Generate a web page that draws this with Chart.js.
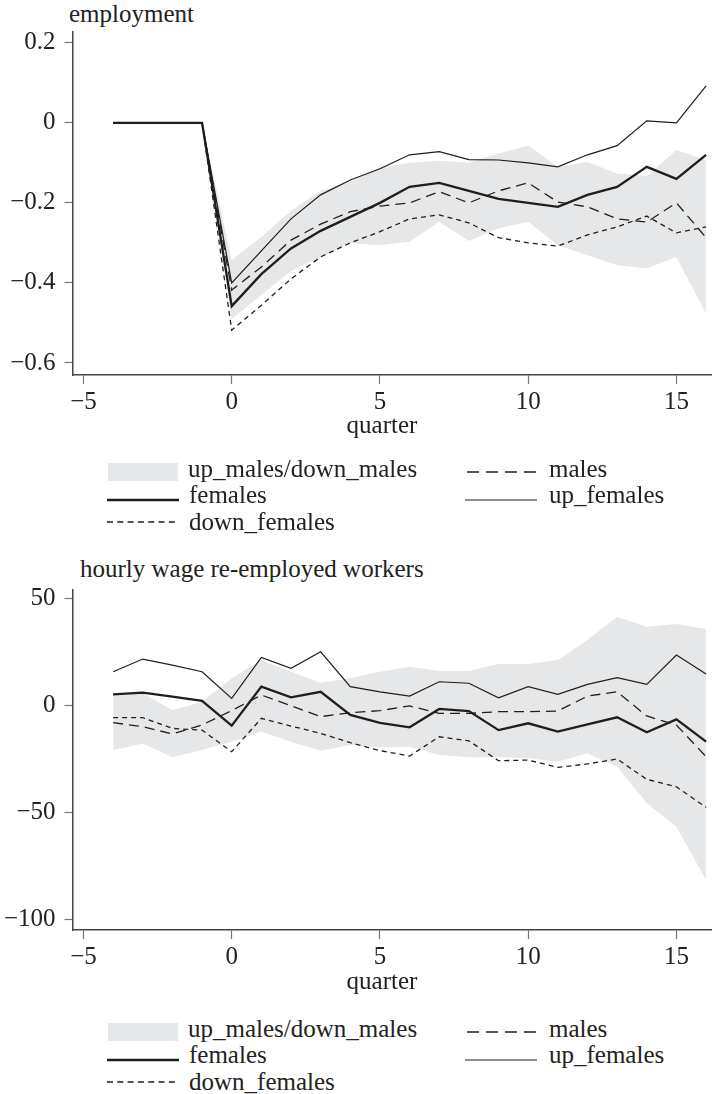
<!DOCTYPE html>
<html>
<head>
<meta charset="utf-8">
<script src="https://cdn.jsdelivr.net/npm/chart.js@4.4.1/dist/chart.umd.min.js"></script>
<style>
  body { margin: 0; background: #fff; }
  #page { position: relative; width: 712px; height: 1094px; overflow: hidden;
          font-family: "Liberation Serif", "Times New Roman", serif; color: #222; }
  .txt { position: absolute; font-size: 25px; line-height: 25px; white-space: nowrap; }
  canvas { position: absolute; left: 0; }
  svg { position: absolute; left: 0; overflow: visible; }
</style>
</head>
<body>
<div id="page">
  <div class="txt" style="left:69px; top:1px;">employment</div>
  <canvas id="empChart" width="712" height="445" style="top:0px;"></canvas>
  <div class="txt" style="left:282px; top:412px; width:200px; text-align:center;">quarter</div>

  <div class="txt" style="left:80px; top:556px;">hourly wage re-employed workers</div>
  <canvas id="wageChart" width="712" height="445" style="top:555px;"></canvas>
  <div class="txt" style="left:282px; top:968px; width:200px; text-align:center;">quarter</div>
</div>

<script>
const quarters = [-4, -3, -2, -1, 0, 1, 2, 3, 4, 5, 6, 7, 8, 9, 10, 11, 12, 13, 14, 15, 16];
const xTicks = [-5, 0, 5, 10, 15];

// employment
const empTicks = [0.2, 0, -0.2, -0.4, -0.6];
const empUpMales = [0, 0, 0, 0, -0.343, -0.285, -0.22, -0.17, -0.148, -0.112, -0.1, -0.095, -0.1, -0.077, -0.057, -0.11, -0.098, -0.127, -0.133, -0.068, -0.093];
const empDownMales = [0, 0, 0, 0, -0.49, -0.43, -0.37, -0.335, -0.3, -0.306, -0.297, -0.247, -0.295, -0.264, -0.247, -0.306, -0.331, -0.356, -0.364, -0.335, -0.477];
const empMales = [0, 0, 0, 0, -0.418, -0.36, -0.293, -0.253, -0.222, -0.208, -0.2, -0.172, -0.2, -0.17, -0.15, -0.198, -0.21, -0.24, -0.248, -0.2, -0.287];
const empFemales = [0, 0, 0, 0, -0.458, -0.378, -0.314, -0.27, -0.235, -0.2, -0.16, -0.15, -0.17, -0.19, -0.2, -0.21, -0.18, -0.16, -0.11, -0.14, -0.08];
const empUpFemales = [0, 0, 0, 0, -0.4, -0.32, -0.24, -0.18, -0.143, -0.115, -0.08, -0.072, -0.092, -0.093, -0.1, -0.11, -0.08, -0.057, 0.005, 0.0, 0.092];
const empDownFemales = [0, 0, 0, 0, -0.518, -0.456, -0.39, -0.335, -0.3, -0.272, -0.24, -0.23, -0.25, -0.287, -0.3, -0.308, -0.28, -0.26, -0.233, -0.275, -0.26];

// hourly wage
const wageTicks = [50, 0, -50, -100];
const wageUpMales = [5, 5.8, -2, 1.9, 12.8, 21.4, 15.9, 10.7, 12.8, 15.9, 18.2, 16.2, 16.2, 19.5, 19.5, 21.4, 30.7, 41.6, 36.9, 38.2, 35.8];
const wageDownMales = [-20.7, -17.6, -24.1, -20.7, -16.8, -12.1, -16.8, -21, -18.4, -19.4, -19.2, -23, -24.1, -24.1, -24.6, -26.2, -22.2, -28.5, -45.6, -56.5, -81.4];
const wageMales = [-7.9, -9.8, -13.2, -9, -2.3, 5, 0, -5.1, -3.3, -2.3, -0.1, -3.6, -3.6, -2.8, -2.8, -2.5, 4.5, 6.5, -4.8, -9, -23.8];
const wageFemales = [5.3, 6.1, 4.2, 2.3, -9.3, 8.9, 3.9, 6.5, -4.3, -8, -10.1, -1.5, -2.5, -11.4, -8.2, -12.1, -8.7, -5.4, -12.4, -6.4, -16.8];
const wageUpFemales = [15.9, 21.8, 19, 15.9, 3.4, 22.6, 17.5, 25.2, 8.9, 6.5, 4.5, 11.2, 10.5, 3.7, 8.9, 5.3, 10, 13.1, 10, 23.7, 14.8];
const wageDownFemales = [-5.6, -5.6, -10.6, -11.4, -21.5, -5.9, -9.5, -12.9, -17.3, -21, -23.5, -14.5, -16.4, -25.7, -25.4, -28.8, -27.2, -24.9, -34.4, -37.9, -47.5];

const bandColor = "#e6e7e8";
const lineColor = "#1e1e1e";
const tickFont = { family: "Liberation Serif", size: 25 };

function pts(values) {
  return quarters.map((q, i) => ({ x: q, y: values[i] }));
}

function fmt(v) {
  return String(v).replace("-", "\u2212");
}

function buildDatasets(up, down, males, females, upFemales, downFemales) {
  const common = { pointRadius: 0, tension: 0, borderColor: lineColor, fill: false };
  return [
    { ...common, label: "up_males", data: pts(up), borderWidth: 0, borderColor: "rgba(0,0,0,0)",
      fill: "+1", backgroundColor: bandColor },
    { ...common, label: "down_males", data: pts(down), borderWidth: 0, borderColor: "rgba(0,0,0,0)" },
    { ...common, label: "males", data: pts(males), borderWidth: 1.3, borderDash: [10, 6] },
    { ...common, label: "females", data: pts(females), borderWidth: 2.3 },
    { ...common, label: "up_females", data: pts(upFemales), borderWidth: 1.2 },
    { ...common, label: "down_females", data: pts(downFemales), borderWidth: 1.3, borderDash: [5, 4] },
  ];
}

function makeChart(id, datasets, yTicks, yMin, yMax, padTop) {
  return new Chart(document.getElementById(id), {
    type: "line",
    data: { datasets },
    options: {
      responsive: false,
      animation: false,
      layout: { padding: { top: padTop, right: 0, bottom: 0, left: 0 } },
      plugins: {
        legend: { display: false },
        tooltip: { enabled: false },
        filler: { drawTime: "beforeDatasetsDraw" },
      },
      scales: {
        x: {
          type: "linear",
          min: -5.37,
          max: 16.2,
          afterBuildTicks: (s) => { s.ticks = xTicks.map((v) => ({ value: v })); },
          afterFit: (s) => { s.height = 70; },
          ticks: { callback: fmt, font: tickFont, color: "#222", padding: 3, maxRotation: 0, autoSkip: false },
          grid: { drawOnChartArea: false, drawTicks: true, tickLength: 9, color: "#777", tickWidth: 1.2 },
          border: { display: true, color: "#444", width: 1.5 },
        },
        y: {
          min: yMin,
          max: yMax,
          afterBuildTicks: (s) => { s.ticks = yTicks.map((v) => ({ value: v })); },
          afterFit: (s) => { s.width = 72.5; },
          ticks: { callback: fmt, font: tickFont, color: "#222", padding: 9, autoSkip: false },
          grid: { drawOnChartArea: false, drawTicks: true, tickLength: 8, color: "#777", tickWidth: 1.2 },
          border: { display: true, color: "#444", width: 1.5 },
        },
      },
    },
  });
}

makeChart("empChart",
  buildDatasets(empUpMales, empDownMales, empMales, empFemales, empUpFemales, empDownFemales),
  empTicks, -0.63, 0.2275, 31.7);

makeChart("wageChart",
  buildDatasets(wageUpMales, wageDownMales, wageMales, wageFemales, wageUpFemales, wageDownFemales),
  wageTicks, -104.8, 54.4, 34.3);

// legends (same layout under each panel)
const page = document.getElementById("page");

function addText(text, left, baseline) {
  const d = document.createElement("div");
  d.className = "txt";
  d.style.left = left + "px";
  d.style.top = (baseline - 21) + "px";
  d.textContent = text;
  page.appendChild(d);
}

function addLegend(offset) {
  const svgNS = "http://www.w3.org/2000/svg";
  const svg = document.createElementNS(svgNS, "svg");
  svg.setAttribute("width", "712");
  svg.setAttribute("height", "90");
  svg.style.top = (offset + 450) + "px";

  const rect = document.createElementNS(svgNS, "rect");
  rect.setAttribute("x", 108); rect.setAttribute("y", 13);
  rect.setAttribute("width", 70); rect.setAttribute("height", 18);
  rect.setAttribute("fill", bandColor);
  svg.appendChild(rect);

  const lines = [
    [467, 537, 22, 1.3, "12 7"],
    [107, 179, 50, 2.3, null],
    [465, 537, 50, 1.2, null],
    [107, 179, 72, 1.3, "6 4.3"],
  ];
  lines.forEach(([x1, x2, y, w, dash]) => {
    const l = document.createElementNS(svgNS, "line");
    l.setAttribute("x1", x1); l.setAttribute("x2", x2);
    l.setAttribute("y1", y); l.setAttribute("y2", y);
    l.setAttribute("stroke", lineColor);
    l.setAttribute("stroke-width", w);
    if (dash) l.setAttribute("stroke-dasharray", dash);
    svg.appendChild(l);
  });
  page.appendChild(svg);

  addText("up_males/down_males", 188, offset + 477);
  addText("males", 549, offset + 477);
  addText("females", 189, offset + 503);
  addText("up_females", 549, offset + 503);
  addText("down_females", 189, offset + 530);
}

addLegend(0);
addLegend(560);
</script>
</body>
</html>
